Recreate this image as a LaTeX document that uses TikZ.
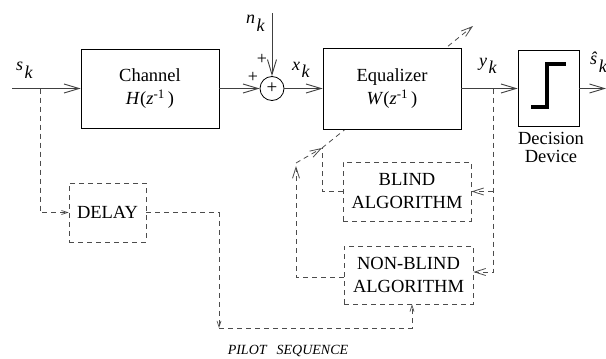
\documentclass[tikz,border=0pt]{standalone}
\usepackage{fontspec}
\setmainfont{Liberation Serif}
\usetikzlibrary{arrows.meta}
\newcommand\lbl[2]{\textit{#1}\kern1.5pt\raisebox{-0.42em}{\textit{#2}}}
\begin{document}
\begin{tikzpicture}[x=1pt,y=-1pt,
  ln/.style={draw=black!75,line width=0.9pt},
  sig/.style={ln,-{Straight Barb[length=15pt,width=9pt,line width=0.9pt]}},
  dsh/.style={draw=black!70,line width=0.8pt,dash pattern=on 5pt off 4pt},
  dtip/.style={-{Straight Barb[length=11pt,width=7pt,line width=0.8pt]}},
  stip/.style={-{Straight Barb[length=6pt,width=4pt,line width=0.7pt]}},
  box/.style={draw=black,line width=0.8pt,fill=white,inner sep=0pt,align=center,
    font=\fontsize{18.5}{23}\selectfont},
  dbox/.style={box,draw=black!70,dash pattern=on 5pt off 4pt},
  lab/.style={inner sep=0pt,font=\fontsize{18}{20}\selectfont},
  pl/.style={inner sep=0pt,font=\fontsize{18}{18}\selectfont}]
\useasboundingbox (0,0) rectangle (606,359);
\fill[white] (0,0) rectangle (606,359);
% adaptation arrow (behind the equalizer)
\coordinate (dA) at (296,163);
\coordinate (dB) at (322,148);
\coordinate (dC) at (473,26);
\draw[dsh,dtip] (dA) -- (dB);
\draw[dsh,dtip] (dB) -- (dC);
% blocks
\node[box,minimum width=138pt,minimum height=79pt] (chan) at (150,88.5)
  {Channel\\\textit{H}(\textit{z}\textsuperscript{-1}\,)};
\node[circle,draw=black,line width=0.8pt,minimum size=24pt,inner sep=0pt,
  font=\fontsize{19}{19}\selectfont] (sum) at (272,88.5) {+};
\node[box,minimum width=138pt,minimum height=81pt] (eq) at (392,88.5)
  {Equalizer\\\textit{W}(\textit{z}\textsuperscript{-1}\,)};
\node[box,minimum width=61pt,minimum height=76pt] (dec) at (548.5,88.5) {};
\node[align=center,inner sep=0pt,font=\fontsize{18.5}{18}\selectfont] (declab) at (551,147) {Decision\\Device};
\node[dbox,minimum width=128pt,minimum height=59pt] (blind) at (407,191.5) {BLIND\\ALGORITHM};
\node[dbox,minimum width=129pt,minimum height=58pt] (nb) at (408.5,275) {NON-BLIND\\ALGORITHM};
\node[dbox,minimum width=77pt,minimum height=59pt] (delay) at (107.5,212.5) {DELAY};
% step symbol
\draw[line width=3.5pt,line join=miter] (531,107) -- (547,107) -- (547,64) -- (566,64);
% coordinates
\coordinate (in) at (12,88.5);
\coordinate (tap1) at (40,88.5);
\coordinate (pc) at (219,328);
\coordinate (nin) at (272,13);
\coordinate (tapy) at (493,88.5);
\coordinate (tb) at (493,191.5);
\coordinate (out) at (606,88.5);
\coordinate (nbup) at (296,166);
% signal path
\draw[sig] (in) -- (chan.west);
\draw[sig] (chan.east) -- (sum.west);
\draw[sig] (nin) -- (sum.north);
\draw[sig] (sum.east) -- (eq.west);
\draw[sig] (eq.east) -- (dec.west);
\draw[sig] (dec.east) -- (out);
% dashed paths
\draw[dsh,stip] (tap1) |- (delay.west);
\draw[dsh,stip] (delay.east) -| (pc);
\draw[dsh,stip] (pc) -| ([xshift=3.5pt]nb.south);
\draw[dsh,dtip] (tapy) |- ([yshift=3pt]nb.east);
\draw[dsh,dtip] (tb) -- (blind.east);
\draw[dsh] (blind.west) -| (dB);
\draw[dsh,dtip] ([yshift=-2pt]nb.west) -| (nbup);
% labels
\node[lab,anchor=west] (sk) at (16,70) {\lbl{s}{k}};
\node[lab,anchor=west] (nk) at (246,23) {\lbl{n}{k}};
\node[lab,anchor=west] (xk) at (292,70) {\lbl{x}{k}};
\node[lab,anchor=west] (yk) at (479,66) {\lbl{y}{k}};
\node[lab,anchor=west] (shk) at (590,62) {\lbl{ŝ}{k}};
\node[pl] (p1) at (262,59) {+};
\node[pl] (p2) at (253,77) {+};
\node[inner sep=0pt,font=\fontsize{14}{14}\selectfont\itshape] (pilot) at (288,351) {PILOT\hspace{10pt}SEQUENCE};
\end{tikzpicture}
\end{document}
